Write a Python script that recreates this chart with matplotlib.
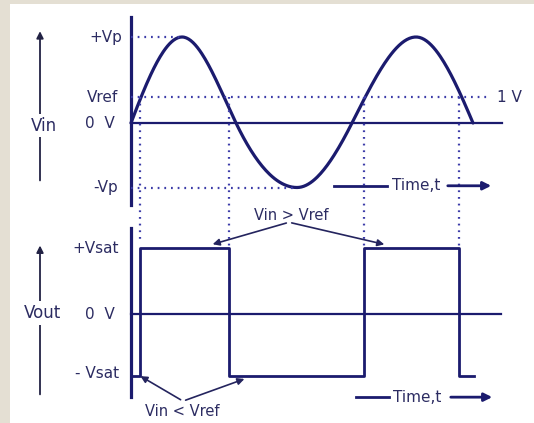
import numpy as np
import matplotlib.pyplot as plt
from matplotlib.patches import Rectangle

# input sine: key points (time, volts) -- zero crossings and peaks
sine_t = [0.0, 0.51, 1.05, 1.66, 2.21, 2.85, 3.42]
sine_v = [0.0, 1.0, 0.0, -0.75, 0.0, 1.0, 0.0]
vp = 1.0
vn = -0.75
vref = 0.30

# times where Vin crosses Vref
cross_t = [0.09, 0.98, 2.33, 3.28]

# output square wave
vsat_p = 1.0
vsat_n = -0.94
out_start = 0.0
out_end = 3.43

navy = '#1b1b6e'
dots = '#3c3ca8'
txt = '#2c2c62'

fig = plt.figure(figsize=(5.34, 4.23), dpi=100)
fig.patch.set_facecolor('#e4dfd3')
fig.add_artist(Rectangle((10 / 534, 0), 1, 1 - 4 / 423, transform=fig.transFigure,
                         facecolor='white', edgecolor='none', zorder=0))

top = fig.add_axes([0, 1 - 210 / 423, 1, 210 / 423])
bot = fig.add_axes([0, 0, 1, 1 - 210 / 423])
for ax in (top, bot):
    ax.set_xlim(-1.31, 4.03)
    ax.axis('off')
top.set_ylim((123 - 210) / 86, 123 / 86)
bot.set_ylim((314 - 423) / 66, (314 - 210) / 66)

# slopes at the key points: 0 at peaks, averaged quarter-sine slope at crossings
n = len(sine_t)
slopes = []
for i in range(n):
    if sine_v[i] != 0:
        slopes.append(0.0)
        continue
    ms = []
    if i > 0:
        ms.append(-sine_v[i - 1] * np.pi / 2 / (sine_t[i] - sine_t[i - 1]))
    if i < n - 1:
        ms.append(sine_v[i + 1] * np.pi / 2 / (sine_t[i + 1] - sine_t[i]))
    slopes.append(np.mean(ms))

xs, ys = [], []
for i in range(n - 1):
    h = sine_t[i + 1] - sine_t[i]
    s = np.linspace(0, 1, 50)
    h00 = 2 * s**3 - 3 * s**2 + 1
    h10 = s**3 - 2 * s**2 + s
    h01 = -2 * s**3 + 3 * s**2
    h11 = s**3 - s**2
    v = h00 * sine_v[i] + h10 * h * slopes[i] + h01 * sine_v[i + 1] + h11 * h * slopes[i + 1]
    xs += list(sine_t[i] + h * s)
    ys += list(v)
top.plot(xs, ys, color=navy, lw=2.3, solid_capstyle='round')

# axes lines
top.plot([0, 0], [1.233, -0.953], color=navy, lw=2.3)
top.plot([0, 3.71], [0, 0], color=navy, lw=1.6)
bot.plot([0, 0], [1.30, -1.258], color=navy, lw=2.3)
bot.plot([0, 3.70], [0, 0], color=navy, lw=1.6)

# dotted guides
dot = dict(color=dots, lw=1.6, linestyle=(0, (0.8, 2.2)))
top.plot([0, sine_t[1]], [vp, vp], **dot)
top.plot([0, 3.60], [vref, vref], **dot)
top.plot([0, sine_t[3]], [vn, vn], **dot)
for i, t in enumerate(cross_t):
    low = -1.395 if i == 0 else -1.44
    top.plot([t, t], [vref, low], clip_on=False, **dot)

# output square wave
qt = [out_start, cross_t[0], cross_t[0], cross_t[1], cross_t[1], cross_t[2],
      cross_t[2], cross_t[3], cross_t[3], out_end]
qv = [vsat_n, vsat_n, vsat_p, vsat_p, vsat_n, vsat_n, vsat_p, vsat_p, vsat_n, vsat_n]
bot.plot(qt, qv, color=navy, lw=2.0)

fs = 11
# top labels
top.text(-0.09, vp, '+Vp', ha='right', va='center', fontsize=fs, color=txt)
top.text(-0.13, vref, 'Vref', ha='right', va='center', fontsize=fs, color=txt)
top.text(-0.16, 0, '0  V', ha='right', va='center', fontsize=fs, color=txt)
top.text(-0.13, vn, '-Vp', ha='right', va='center', fontsize=fs, color=txt)
top.text(3.66, vref, '1 V', ha='left', va='center', fontsize=fs, color=txt)

# bottom labels
bot.text(-0.12, vsat_p, '+Vsat', ha='right', va='center', fontsize=fs, color=txt)
bot.text(-0.16, 0, '0  V', ha='right', va='center', fontsize=fs, color=txt)
bot.text(-0.12, vsat_n + 0.04, '- Vsat', ha='right', va='center', fontsize=fs, color=txt)

# Vin / Vout arrows on the left
top.annotate('', xy=(-0.91, 1.10), xytext=(-0.91, -0.70),
             arrowprops=dict(arrowstyle='-|>', color='#222244', lw=1.3, mutation_scale=10))
top.text(-0.875, -0.03, 'Vin', ha='center', va='center', fontsize=fs + 1, color=txt,
         bbox=dict(facecolor='white', edgecolor='none', pad=2))
bot.annotate('', xy=(-0.91, 1.08), xytext=(-0.91, -1.26),
             arrowprops=dict(arrowstyle='-|>', color='#222244', lw=1.3, mutation_scale=10))
bot.text(-0.88, 0.02, 'Vout', ha='center', va='center', fontsize=fs + 1, color=txt,
         bbox=dict(facecolor='white', edgecolor='none', pad=2))

# time arrows
for ax, y, a0, a1, tc, b0, b1 in [(top, -0.73, 2.03, 2.56, 2.85, 3.14, 3.63),
                                   (bot, -1.26, 2.25, 2.58, 2.86, 3.17, 3.64)]:
    ax.plot([a0, a1], [y, y], color=navy, lw=2.0, clip_on=False)
    ax.text(tc, y, 'Time,t', ha='center', va='center', fontsize=fs, color=txt)
    ax.annotate('', xy=(b1, y), xytext=(b0, y),
                arrowprops=dict(arrowstyle='-|>', color=navy, lw=2.0, mutation_scale=12))

# Vin > Vref / Vin < Vref callouts
arr = dict(arrowstyle='-|>', color='#24245e', lw=1.2, mutation_scale=10)
bot.text(1.60, 1.50, 'Vin > Vref', ha='center', va='center', fontsize=fs - 0.5, color=txt)
bot.annotate('', xy=(0.79, 1.045), xytext=(1.58, 1.39), arrowprops=arr)
bot.annotate('', xy=(2.56, 1.045), xytext=(1.58, 1.39), arrowprops=arr)
bot.text(0.51, -1.47, 'Vin < Vref', ha='center', va='center', fontsize=fs - 0.5, color=txt)
bot.annotate('', xy=(0.07, -0.92), xytext=(0.52, -1.32), arrowprops=arr)
bot.annotate('', xy=(1.16, -0.97), xytext=(0.52, -1.32), arrowprops=arr)

fig.savefig('out.png', dpi=100)
